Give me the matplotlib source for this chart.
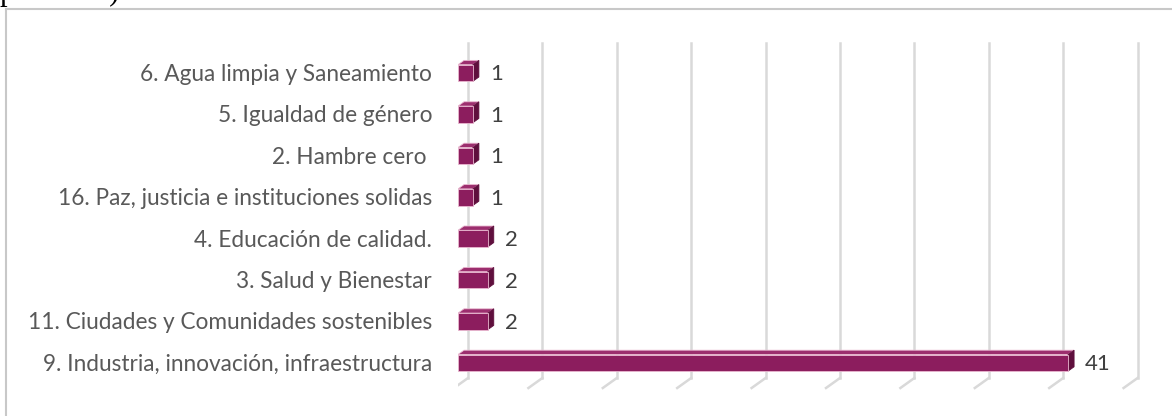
import matplotlib.pyplot as plt
from matplotlib.patches import Polygon
from matplotlib.lines import Line2D

# datos: proyectos por ODS
categorias = ["6. Agua limpia y Saneamiento",
              "5. Igualdad de género",
              "2. Hambre cero ",
              "16. Paz, justicia e instituciones solidas",
              "4. Educación de calidad.",
              "3. Salud y Bienestar",
              "11. Ciudades y Comunidades sostenibles",
              "9. Industria, innovación, infraestructura"]
valores = [1, 1, 1, 1, 2, 2, 2, 41]
ticks = [0, 5, 10, 15, 20, 25, 30, 35, 40, 45]

W, H = 1172, 416
fig = plt.figure(figsize=(W / 100, H / 100), dpi=100)

# escala: 1 unidad = 14.88 px, filas cada 41.4 px
ux = 14.88
uy = 41.4
x0_px = 458
y0_px = 73
ax = fig.add_axes([x0_px / W, 0, 1 - x0_px / W, 1])
ax.set_xlim(0, (W - x0_px) / ux)
ax.set_ylim((H - y0_px) / uy, -y0_px / uy)
ax.axis("off")

def px(dx):
    return dx / ux

def py(dy):
    return dy / uy

# paredes / lineas de cuadricula (pared a 10 px detras del frente)
gris = "#D9D9D9"
y_top = py(43 - y0_px)
y_bot = py(378 - y0_px)
y_floor = py(388 - y0_px)
for t in ticks:
    xb = t + px(10)
    ax.add_line(Line2D([xb, xb], [y_top, y_bot], color=gris, lw=1.8, zorder=1))
    ax.add_line(Line2D([xb, t - px(4)], [y_bot, y_floor], color=gris, lw=1.8, zorder=1))

# barras 3D
frente = "#8C1D5E"
lado = "#5F0F3D"
arriba = "#9C2E6E"
borde = "#E9B8D0"
h = py(8.3)
ddx = px(6)
ddy = py(4.3)
for i, v in enumerate(valores):
    top = i - h
    bot = i + h
    ax.add_patch(Polygon([(0, top), (ddx, top - ddy), (v + ddx, top - ddy), (v, top)],
                         closed=True, fc=arriba, ec=borde, lw=0.6, zorder=3))
    ax.add_patch(Polygon([(v, top), (v + ddx, top - ddy), (v + ddx, bot - ddy), (v, bot)],
                         closed=True, fc=lado, ec=lado, lw=0.6, zorder=3))
    ax.add_patch(Polygon([(0, top), (v, top), (v, bot), (0, bot)],
                         closed=True, fc=frente, ec=borde, lw=0.6, zorder=4))
    ax.text(v + px(17), i + py(1.5), str(v), ha="left", va="center",
            fontsize=16, color="#404040", family="Lato", zorder=5)
    ax.text(-px(26), i + py(1.5), categorias[i], ha="right", va="center",
            fontsize=16.3, color="#595959", family="Lato", zorder=5, clip_on=False)

# marco del grafico (recortado a la derecha y abajo)
fig.add_artist(Line2D([6 / W, 6 / W], [0, 1 - 9 / H], color="#C8C8C8", lw=1.5,
                      transform=fig.transFigure))
fig.add_artist(Line2D([6 / W, 1], [1 - 9 / H, 1 - 9 / H], color="#C8C8C8", lw=1.5,
                      transform=fig.transFigure))

# titulo del documento, cortado por el borde superior
fig.text(0.0, 1 - 0.3 / H, "por ODS)", ha="left", va="baseline",
         family="Liberation Serif", fontsize=22, color="black")

fig.savefig("out.png", dpi=100)
